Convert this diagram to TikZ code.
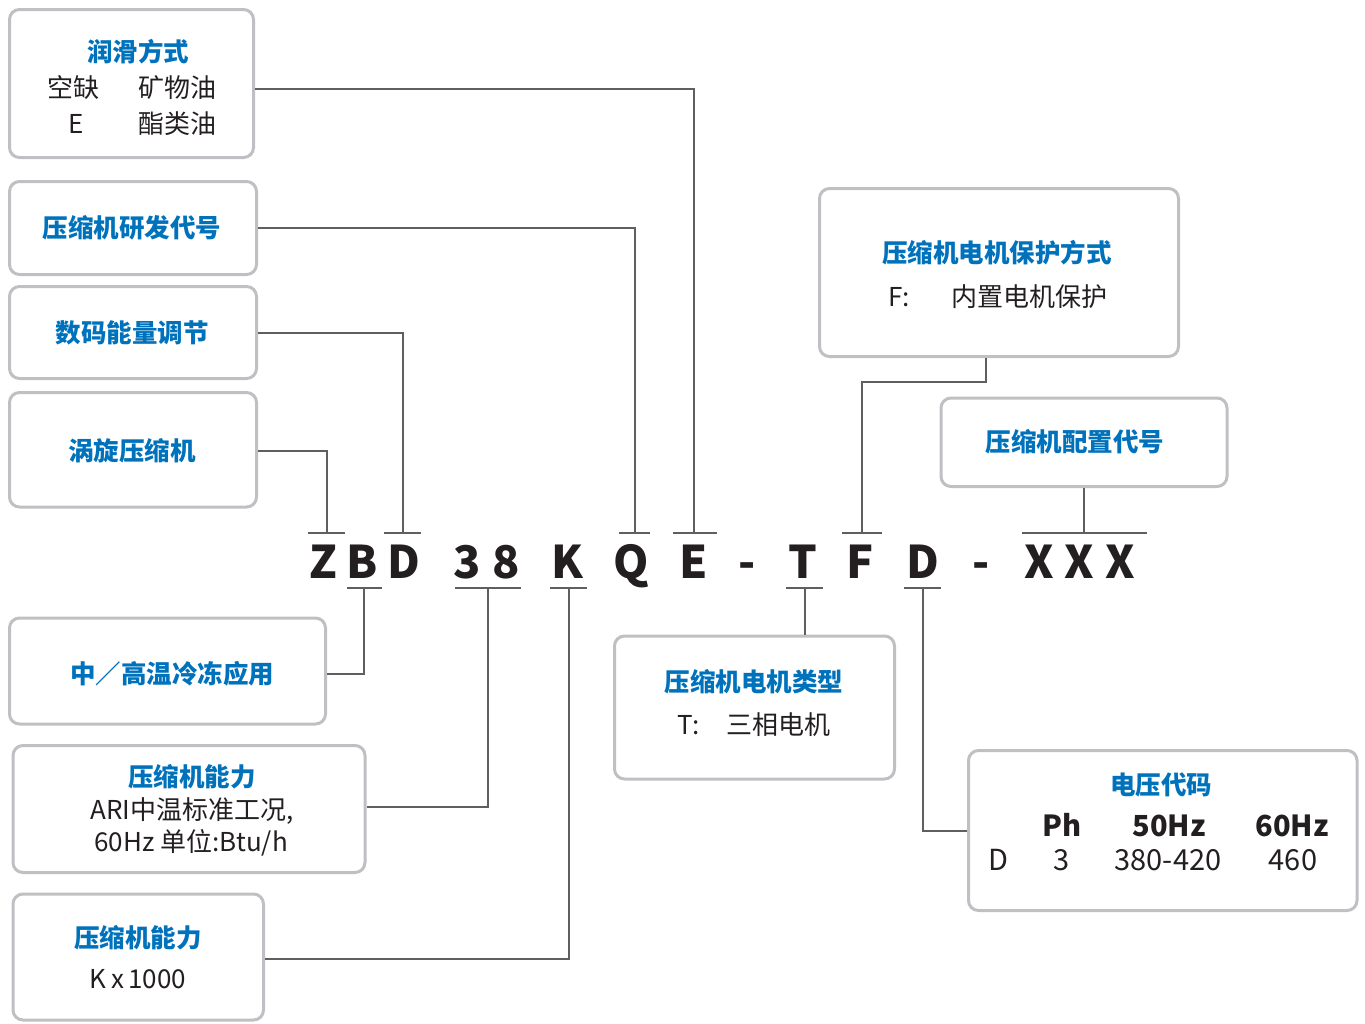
\documentclass[tikz,border=0pt]{standalone}
\usepackage{fontspec}
\setmainfont{Noto Sans CJK SC}
\definecolor{tblue}{RGB}{0,114,188}
\definecolor{boxgray}{RGB}{192,192,196}
\definecolor{lgray}{RGB}{95,95,95}
\definecolor{txt}{RGB}{35,31,32}
\tikzset{
  box/.style={draw=boxgray, line width=3pt, rounded corners=10pt, inner sep=0pt},
  conn/.style={draw=lgray, line width=1.4pt},
  ttl/.style={text=tblue, font=\bfseries\fontsize{25.5}{30}\selectfont, inner sep=0pt, text height=22pt, text depth=3pt},
  bodytxt/.style={text=txt, font=\fontsize{26}{30}\selectfont, inner sep=0pt, text height=22pt, text depth=3pt},
  tbl/.style={text=txt, font=\fontsize{29}{32}\selectfont, inner sep=0pt, text height=22pt, text depth=3pt},
  tblh/.style={text=txt, font=\bfseries\fontsize{29}{32}\selectfont, inner sep=0pt, text height=22pt, text depth=3pt},
  code/.style={text=txt, font=\bfseries\fontsize{45}{50}\selectfont, inner sep=0pt, anchor=base}
}
\begin{document}
\begin{tikzpicture}[x=1pt,y=-1pt]
\useasboundingbox (0,0) rectangle (1365,1023);
% boxes
\node[box, minimum width=244pt, minimum height=148pt] (b1) at (131.5,83.5) {};
\node[box, minimum width=247pt, minimum height=93pt] (b2) at (133,228) {};
\node[box, minimum width=247pt, minimum height=92pt] (b3) at (133,332.5) {};
\node[box, minimum width=247pt, minimum height=114.5pt] (b4) at (133,449.75) {};
\node[box, minimum width=316pt, minimum height=106pt] (b5) at (167.5,671) {};
\node[box, minimum width=352pt, minimum height=127pt] (b6) at (189,809) {};
\node[box, minimum width=250.5pt, minimum height=126pt] (b7) at (138.25,957) {};
\node[box, minimum width=359pt, minimum height=168pt] (b8) at (999,272.5) {};
\node[box, minimum width=286pt, minimum height=88.5pt] (b9) at (1084,442.25) {};
\node[box, minimum width=280pt, minimum height=143pt] (b10) at (754.5,707.5) {};
\node[box, minimum width=388.5pt, minimum height=160pt] (b11) at (1162.75,830.5) {};
% box texts
\node[ttl] (t1) at (138,52) {润滑方式};
\node[bodytxt] (t1a) at (73,88) {空缺};
\node[bodytxt] (t1b) at (177,88) {矿物油};
\node[bodytxt] (t1c) at (76,124) {E};
\node[bodytxt] (t1d) at (177,124) {酯类油};
\node[ttl] (t2) at (132,228) {压缩机研发代号};
\node[ttl] (t3) at (132,333) {数码能量调节};
\node[ttl] (t4) at (132,451) {涡旋压缩机};
\node[ttl] (t5) at (172,674) {中／高温冷冻应用};
\node[ttl] (t6) at (192,777) {压缩机能力};
\node[bodytxt] (t6a) at (192,810) {ARI中温标准工况,};
\node[bodytxt] (t6b) at (191,842) {60Hz 单位:Btu/h};
\node[ttl] (t7) at (138,938) {压缩机能力};
\node[bodytxt] (t7a) at (138,979) {K\,x\,1000};
\node[ttl] (t8) at (997,253) {压缩机电机保护方式};
\node[bodytxt] (t8a) at (899,297) {F:};
\node[bodytxt] (t8b) at (1029,297) {内置电机保护};
\node[ttl] (t9) at (1075,442) {压缩机配置代号};
\node[ttl] (t10) at (754,682) {压缩机电机类型};
\node[bodytxt] (t10a) at (689,725) {T:};
\node[bodytxt] (t10b) at (778,725) {三相电机};
\node[ttl] (t11) at (1161,785) {电压代码};
\node[tblh] (h1) at (1062,827) {Ph};
\node[tblh] (h2) at (1169,827) {50Hz};
\node[tblh] (h3) at (1292,827) {60Hz};
\node[tbl] (r0) at (998,861) {D};
\node[tbl] (r1) at (1062,861) {3};
\node[tbl] (r2) at (1168,861) {380-420};
\node[tbl] (r3) at (1293,861) {460};
% code letters
\node[code] (cZ) at (323,578) {Z};
\node[code] (cB) at (362,578) {B};
\node[code] (cD) at (404,578) {D};
\node[code] (c3) at (467,578) {3};
\node[code] (c8) at (506,578) {8};
\node[code] (cK) at (567,578) {K};
\node[code] (cQ) at (631,578) {Q};
\node[code] (cE) at (694,578) {E};
\node[code] (cm1) at (747,578) {-};
\node[code] (cT) at (803,578) {T};
\node[code] (cF) at (860,578) {F};
\node[code] (cD2) at (923,578) {D};
\node[code] (cm2) at (981,578) {-};
\node[code] (cX1) at (1039,578) {X};
\node[code] (cX2) at (1079,578) {X};
\node[code] (cX3) at (1120,578) {X};
% bracket centres
\coordinate (tZ) at (327,533);
\coordinate (tD) at (403,533);
\coordinate (tQ) at (635,533);
\coordinate (tE) at (694,533);
\coordinate (tF) at (862,533);
\coordinate (tX) at (1084,533);
\coordinate (uB) at (364,588);
\coordinate (u38) at (488,588);
\coordinate (uK) at (569,588);
\coordinate (uT) at (805,588);
\coordinate (uD) at (923,588);
% brackets
\draw[conn] (308,533) -- (345,533);
\draw[conn] (384,533) -- (421,533);
\draw[conn] (619,533) -- (650,533);
\draw[conn] (673,533) -- (717,533);
\draw[conn] (842,533) -- (882,533);
\draw[conn] (1022,533) -- (1147,533);
\draw[conn] (347,588) -- (382,588);
\draw[conn] (455,588) -- (521,588);
\draw[conn] (550,588) -- (587,588);
\draw[conn] (786,588) -- (823,588);
\draw[conn] (904,588) -- (941,588);
% connectors
\draw[conn] (b1.east |- 0,89) -| (tE);
\draw[conn] (b2.east |- 0,228) -| (tQ);
\draw[conn] (b3.east |- 0,333) -| (tD);
\draw[conn] (b4.east |- 0,451) -| (tZ);
\draw[conn] (b5.east |- 0,674) -| (uB);
\draw[conn] (b6.east |- 0,807) -| (u38);
\draw[conn] (b7.east |- 0,959) -| (uK);
\draw[conn] (b8.south -| 986,0) -- (986,382) -| (tF);
\draw[conn] (b9.south -| tX) -- (tX);
\draw[conn] (b10.north -| uT) -- (uT);
\draw[conn] (b11.west |- 0,831) -| (uD);
\end{tikzpicture}
\end{document}
